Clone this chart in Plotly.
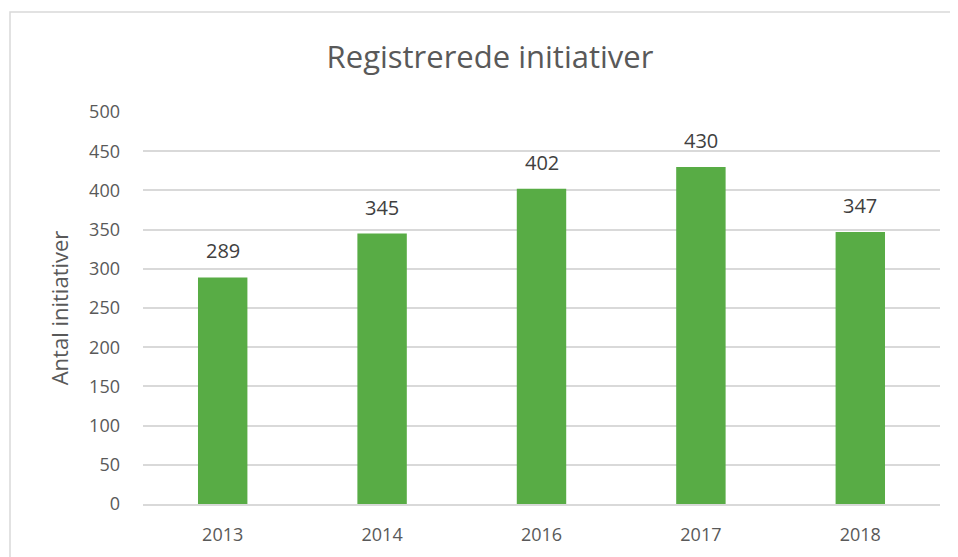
import plotly.graph_objects as go

years = ["2013", "2014", "2016", "2017", "2018"]
values = [289, 345, 402, 430, 347]
y_ticks = [0, 50, 100, 150, 200, 250, 300, 350, 400, 450, 500]

# page body has an 8px margin; figure coords are offset accordingly
OFF = 8
W, H = 958 - OFF, 557 - OFF
L, R, T, B = 143 - OFF, 18, 112 - OFF, 53
pw = W - L - R
ph = H - T - B

FONT = "Open Sans"

fig = go.Figure(go.Bar(
    x=years, y=values,
    marker=dict(color="#58AC45", line=dict(width=0)),
    hoverinfo="x+y",
))

# category axis: annotations addressed by category index
for i, v in enumerate(values):
    fig.add_annotation(x=i, y=v, text=str(v), showarrow=False,
                       yanchor="bottom", yshift=11,
                       font=dict(family=FONT, size=20, color="#404040"))

fig.update_layout(
    width=W, height=H,
    margin=dict(l=L, r=R, t=T, b=B),
    paper_bgcolor="white", plot_bgcolor="white",
    bargap=0.69,
    showlegend=False,
    title=dict(text="Registrerede initiativer", x=(490 - OFF) / W, xanchor="center",
               y=1 - (57 - OFF) / H, yanchor="middle",
               font=dict(family=FONT, size=31, color="#595959")),
    xaxis=dict(type="category", categoryorder="array", categoryarray=years,
               range=[-0.5, len(years) - 0.5], automargin=False,
               showgrid=False, showline=True, linecolor="#d9d9d9",
               linewidth=1.5, ticks="", ticklabelstandoff=14,
               tickfont=dict(family=FONT, size=18, color="#595959")),
    yaxis=dict(range=[0, 500], tickvals=y_ticks, showgrid=True, gridcolor="#d9d9d9",
               gridwidth=1.5, zeroline=False, showline=False, ticks="",
               ticklabelstandoff=22, automargin=False,
               tickfont=dict(family=FONT, size=18, color="#595959"),
               title=dict(text="Antal initiativer", standoff=14,
                          font=dict(family=FONT, size=22, color="#595959"))),
    shapes=[dict(type="rect", xref="paper", yref="paper",
                 x0=(10 - 143) / pw, x1=(975 - 143) / pw,
                 y0=-(575 - 504) / ph, y1=1 + (112 - 12) / ph,
                 line=dict(color="#d9d9d9", width=1.5), layer="below")],
)

fig.write_html("out.html")
